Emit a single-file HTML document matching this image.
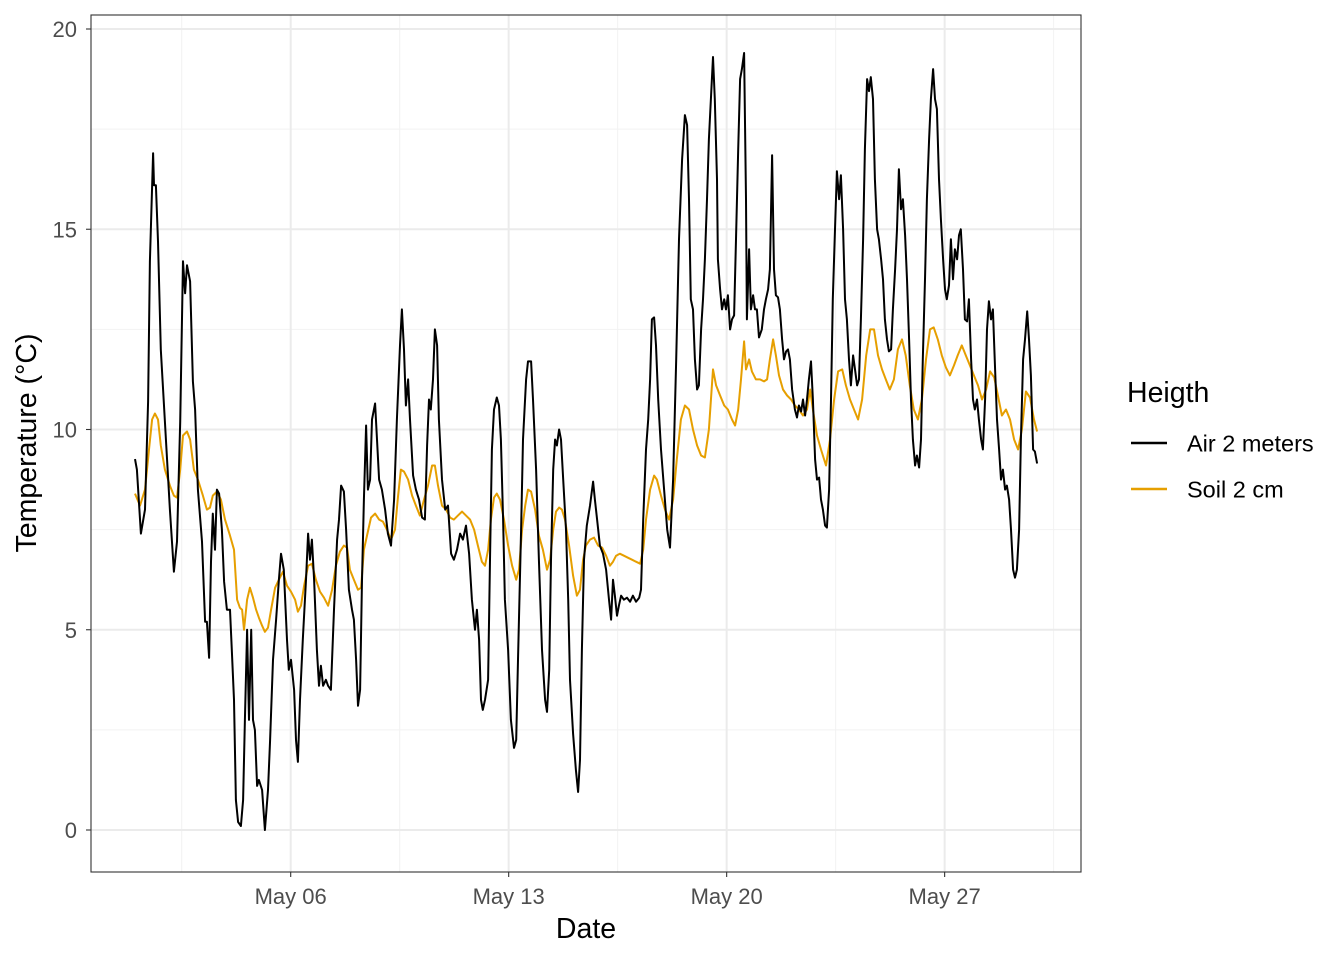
<!DOCTYPE html>
<html><head><meta charset="utf-8"><style>
body{margin:0;background:#fff;}
svg{display:block;font-family:"Liberation Sans",sans-serif;}
</style></head><body>
<svg id="chart" width="1344" height="960">
<g id="grid"></g>
<g id="series"></g>
<rect x="91" y="15" width="990" height="857" fill="none" stroke="#333" stroke-width="1.1"/>
<g id="axes"></g>
<text x="586" y="938" font-size="28.5" text-anchor="middle" fill="#000">Date</text>
<text transform="translate(36,443) rotate(-90)" font-size="28.5" text-anchor="middle" fill="#000">Temperature (°C)</text>
<g>
<text x="1127" y="402" font-size="28.5" fill="#000">Heigth</text>
<g><line x1="1131" x2="1167" y1="443" y2="443" stroke="#000" stroke-width="2.5"/><text x="1187" y="451.5" font-size="23.5" fill="#000">Air 2 meters</text></g>
<g><line x1="1131" x2="1167" y1="489" y2="489" stroke="#E69F00" stroke-width="2.5"/><text x="1187" y="497.5" font-size="23.5" fill="#000">Soil 2 cm</text></g>
</g>
</svg>
<script>
// days since May 01 00:00
const airDays=[0,0.06,0.19,0.32,0.42,0.48,0.58,0.61,0.67,0.74,0.83,0.96,1.12,1.25,1.35,1.45,1.54,1.61,1.67,1.77,1.86,1.93,2.02,2.15,2.25,2.31,2.38,2.44,2.5,2.57,2.63,2.7,2.79,2.86,2.95,3.05,3.11,3.18,3.24,3.31,3.4,3.47,3.53,3.6,3.66,3.73,3.79,3.85,3.92,3.98,4.08,4.17,4.27,4.34,4.43,4.53,4.62,4.69,4.78,4.88,4.94,5.01,5.11,5.17,5.23,5.3,5.39,5.49,5.56,5.62,5.68,5.75,5.84,5.91,5.97,6.04,6.13,6.2,6.29,6.39,6.49,6.55,6.62,6.71,6.78,6.87,6.97,7.03,7.1,7.16,7.23,7.29,7.35,7.42,7.48,7.55,7.61,7.71,7.77,7.84,7.93,8.03,8.12,8.22,8.32,8.41,8.51,8.57,8.64,8.7,8.77,8.83,8.93,9.02,9.12,9.22,9.31,9.38,9.44,9.5,9.57,9.63,9.7,9.76,9.86,9.96,10.05,10.15,10.24,10.34,10.44,10.53,10.63,10.73,10.82,10.92,10.98,11.05,11.11,11.17,11.24,11.34,11.4,11.46,11.53,11.62,11.69,11.75,11.82,11.88,11.98,12.07,12.17,12.24,12.3,12.4,12.46,12.56,12.62,12.72,12.78,12.88,12.97,13.07,13.17,13.23,13.3,13.36,13.43,13.49,13.55,13.62,13.68,13.75,13.84,13.91,13.97,14.07,14.16,14.23,14.29,14.35,14.42,14.51,14.61,14.71,14.77,14.84,14.93,15.03,15.13,15.22,15.29,15.35,15.41,15.48,15.54,15.61,15.7,15.8,15.9,15.99,16.09,16.19,16.25,16.32,16.41,16.48,16.54,16.6,16.67,16.73,16.8,16.89,16.99,17.09,17.18,17.28,17.38,17.47,17.57,17.66,17.73,17.79,17.85,17.92,17.98,18.05,18.11,18.18,18.24,18.3,18.37,18.43,18.5,18.56,18.62,18.69,18.72,18.79,18.85,18.92,18.98,19.04,19.11,19.17,19.24,19.3,19.37,19.43,19.49,19.56,19.62,19.65,19.72,19.78,19.85,19.91,19.97,20.04,20.13,20.2,20.26,20.33,20.39,20.46,20.52,20.58,20.65,20.71,20.78,20.84,20.91,20.97,21.03,21.1,21.19,21.26,21.32,21.39,21.45,21.52,21.58,21.64,21.71,21.77,21.84,21.9,21.97,22.03,22.09,22.16,22.22,22.29,22.35,22.41,22.48,22.54,22.61,22.67,22.74,22.8,22.86,22.93,22.99,23.06,23.12,23.19,23.25,23.31,23.38,23.44,23.51,23.57,23.63,23.7,23.76,23.83,23.89,23.96,24.02,24.08,24.15,24.21,24.28,24.34,24.41,24.47,24.53,24.6,24.66,24.73,24.79,24.86,24.92,24.98,25.05,25.11,25.18,25.24,25.3,25.37,25.43,25.5,25.56,25.63,25.69,25.75,25.82,25.88,25.95,26.01,26.07,26.14,26.2,26.27,26.33,26.4,26.46,26.52,26.59,26.65,26.72,26.78,26.85,26.91,26.97,27.04,27.1,27.17,27.23,27.3,27.36,27.42,27.49,27.55,27.62,27.68,27.75,27.81,27.87,27.94,28,28.07,28.13,28.2,28.26,28.32,28.39,28.45,28.52,28.58,28.65,28.71,28.77,28.84,28.9,28.97];
const airTemp=[9.26,9,7.4,8,10.7,14.2,16.9,16.1,16.1,14.7,12,10.2,8,6.45,7.2,10.2,14.2,13.4,14.1,13.7,11.2,10.5,8.5,7.2,5.2,5.2,4.3,6.7,7.9,7,8.5,8.4,7.5,6.2,5.5,5.5,4.5,3.25,0.75,0.2,0.1,0.75,2.75,5,2.75,5,2.75,2.5,1.1,1.25,1,0,1,2.25,4.25,5.25,6.25,6.9,6.5,4.75,4,4.25,3.5,2.25,1.7,3.25,4.75,6.25,7.4,6.75,7.25,6.25,4.5,3.6,4.1,3.6,3.75,3.6,3.5,5.5,7.25,7.75,8.6,8.45,7.5,6,5.5,5.25,4.25,3.1,3.5,6.25,8.25,10.1,8.5,8.75,10.25,10.65,9.75,8.75,8.5,8,7.4,7.1,8.25,10.25,12.1,13,12,10.6,11.25,10.25,8.85,8.5,8.25,7.8,7.75,9.6,10.75,10.5,11.25,12.5,12.1,10.25,8.75,8,8.1,6.9,6.75,7,7.4,7.25,7.6,6.9,5.75,5,5.5,4.75,3.25,3,3.25,3.75,6.75,9.5,10.5,10.8,10.6,9.75,7.75,5.75,4.5,2.75,2.05,2.25,4.25,7.5,9.75,11.25,11.7,11.7,10.75,9,6.75,4.5,3.25,2.95,4,6.75,9,9.75,9.6,10,9.75,8.75,7.5,5.75,3.75,2.4,1.5,0.95,1.75,4.5,6.75,7.6,8.1,8.7,8.25,7.75,7.1,6.9,6.5,5.75,5.25,6.25,5.85,5.35,5.6,5.85,5.75,5.8,5.7,5.85,5.7,5.8,6,7.75,9.5,10.25,11.25,12.75,12.8,12.1,10.75,9.5,8.5,7.5,7.05,8.75,11.75,14.75,16.75,17.85,17.6,15.75,13.25,13,11.75,11,11.1,12.5,13.25,14.25,15.75,17.25,18.35,19.3,18.25,16.25,14.25,13.5,13,13.25,13,13.35,12.5,12.75,12.85,14.75,17,18.75,19,19.4,15.75,12.75,14.5,13,13.35,13,13,12.3,12.5,13,13.25,13.5,14,16.85,14,13.35,13.3,13,12.25,11.75,11.95,12,11.75,11,10.5,10.3,10.6,10.45,10.75,10.35,10.75,11.25,11.7,10.75,9.25,8.75,8.8,8.25,8,7.6,7.55,8.5,10.75,13.25,15,16.45,15.75,16.35,15,13.25,12.75,11.75,11.1,11.85,11.5,11.1,11.25,12.75,14.75,17,18.75,18.45,18.8,18.25,16.25,15,14.75,14.25,13.75,12.75,12.25,11.95,12,13,14,15,16.5,15.5,15.75,14.85,13.75,12.25,10.75,9.75,9.1,9.35,9.05,9.75,11.75,13.75,15.75,17.25,18.25,19,18.25,18,16.25,15.25,14.25,13.5,13.25,13.6,14.75,13.75,14.5,14.25,14.85,15,14,12.75,12.7,13.25,11.75,10.75,10.5,10.75,10.25,9.75,9.5,10.75,12.5,13.2,12.75,13,11.5,10.25,9.5,8.75,9,8.5,8.6,8.25,7.5,6.5,6.3,6.5,7.5,9.75,11.75,12.25,12.95,12.25,11.35,9.5,9.45,9.15];
const soilDays=[0,0.16,0.32,0.45,0.55,0.64,0.74,0.83,0.96,1.12,1.25,1.35,1.45,1.54,1.67,1.77,1.89,2.02,2.18,2.31,2.41,2.5,2.63,2.76,2.89,3.05,3.18,3.28,3.37,3.44,3.5,3.6,3.69,3.79,3.89,3.98,4.08,4.17,4.27,4.37,4.5,4.62,4.75,4.88,5.01,5.14,5.23,5.33,5.43,5.56,5.68,5.81,5.94,6.07,6.2,6.33,6.45,6.58,6.71,6.81,6.9,7.03,7.16,7.26,7.35,7.45,7.58,7.71,7.84,7.96,8.09,8.22,8.35,8.45,8.54,8.64,8.77,8.9,9.02,9.15,9.28,9.41,9.54,9.63,9.73,9.86,9.99,10.12,10.24,10.37,10.5,10.63,10.76,10.89,11.01,11.14,11.24,11.34,11.43,11.53,11.62,11.72,11.85,11.98,12.11,12.24,12.33,12.43,12.53,12.62,12.72,12.85,12.97,13.1,13.23,13.33,13.43,13.52,13.62,13.71,13.81,13.94,14.07,14.19,14.29,14.39,14.48,14.61,14.74,14.87,15,15.13,15.25,15.35,15.45,15.57,15.7,15.83,15.96,16.09,16.22,16.32,16.41,16.54,16.67,16.76,16.89,17.02,17.15,17.28,17.4,17.53,17.66,17.79,17.92,18.05,18.18,18.3,18.43,18.56,18.66,18.79,18.92,19.04,19.17,19.27,19.37,19.46,19.56,19.62,19.72,19.81,19.94,20.07,20.2,20.3,20.39,20.49,20.58,20.68,20.81,20.94,21.07,21.19,21.32,21.45,21.58,21.68,21.77,21.9,22.03,22.19,22.32,22.45,22.58,22.71,22.83,22.96,23.09,23.22,23.35,23.48,23.61,23.73,23.86,23.99,24.11,24.24,24.37,24.5,24.63,24.75,24.88,25.01,25.14,25.27,25.4,25.53,25.65,25.78,25.91,26.04,26.17,26.3,26.42,26.55,26.68,26.81,26.94,27.07,27.2,27.33,27.46,27.59,27.71,27.84,27.97,28.1,28.23,28.36,28.48,28.61,28.74,28.87,28.97];
const soilTemp=[8.4,8.1,8.5,9.5,10.25,10.4,10.25,9.6,9,8.6,8.35,8.3,9,9.85,9.95,9.75,9,8.75,8.35,8,8.05,8.35,8.45,8.25,7.75,7.35,7,5.75,5.55,5.5,5,5.75,6.05,5.8,5.5,5.3,5.1,4.95,5.05,5.5,6.05,6.25,6.45,6.1,5.95,5.75,5.45,5.6,6.1,6.6,6.65,6.25,5.95,5.8,5.6,6,6.6,6.95,7.1,7.05,6.5,6.25,6,6.05,7,7.35,7.8,7.9,7.75,7.7,7.5,7.25,7.5,8.35,9,8.95,8.75,8.35,8.1,7.85,8.25,8.6,9.1,9.1,8.6,8.1,8,7.8,7.75,7.85,7.95,7.85,7.75,7.5,7.1,6.7,6.6,7,7.75,8.3,8.4,8.25,7.75,7.1,6.6,6.25,6.5,7.5,8.1,8.5,8.45,8,7.35,7,6.5,6.75,7.5,7.95,8.05,8,7.75,7.1,6.35,5.85,6,6.75,7.1,7.25,7.3,7.1,7.05,6.85,6.6,6.7,6.85,6.9,6.85,6.8,6.75,6.7,6.65,7,7.75,8.5,8.85,8.75,8.35,8,7.75,8.25,9.25,10.25,10.6,10.5,10,9.6,9.35,9.3,10,11.5,11.1,10.85,10.6,10.5,10.25,10.1,10.5,11.25,12.2,11.5,11.75,11.45,11.25,11.25,11.2,11.25,11.75,12.25,11.85,11.35,11,10.85,10.75,10.6,10.5,10.35,10.5,11,10.5,9.85,9.5,9.1,9.75,10.75,11.45,11.5,11.1,10.75,10.5,10.25,10.75,11.85,12.5,12.5,11.85,11.5,11.25,11,11.25,12,12.25,11.85,11.1,10.5,10.25,10.75,11.75,12.5,12.55,12.25,11.85,11.55,11.35,11.6,11.85,12.1,11.85,11.6,11.35,11.1,10.75,11,11.45,11.3,10.85,10.35,10.5,10.25,9.75,9.5,10,10.95,10.8,10.25,9.95];
const yTicks=[0,5,10,15,20];
const yTickLabels=["0","5","10","15","20"];
const xTickDays=[5,12,19,26];
const xTickLabels=["May 06","May 13","May 20","May 27"];

const NS="http://www.w3.org/2000/svg";
const X0=91,X1=1081,Y0=15,Y1=872;
function xs(d){return 135+d*31.14;}
function ys(t){return 830-t*40.05;}
function mk(tag,attrs,parent){const e=document.createElementNS(NS,tag);for(const k in attrs)e.setAttribute(k,attrs[k]);parent.appendChild(e);return e;}
const grid=document.getElementById('grid'),axes=document.getElementById('axes'),series=document.getElementById('series');
mk('rect',{x:X0,y:Y0,width:X1-X0,height:Y1-Y0,fill:'#fff'},grid);
for(let i=0;i<yTicks.length-1;i++){const v=(yTicks[i]+yTicks[i+1])/2;const l=mk('line',{x1:X0,x2:X1,y1:ys(v),y2:ys(v),stroke:'#f2f2f2','stroke-width':1},grid);

}
const step=xTickDays[1]-xTickDays[0];
for(let d=xTickDays[0]-step/2;d<=xTickDays[xTickDays.length-1]+step;d+=step){if(xs(d)<X0||xs(d)>X1)continue;const l=mk('line',{x1:xs(d),x2:xs(d),y1:Y0,y2:Y1,stroke:'#f2f2f2','stroke-width':1},grid);

}
yTicks.forEach((v,i)=>{const l=mk('line',{x1:X0,x2:X1,y1:ys(v),y2:ys(v),stroke:'#ebebeb','stroke-width':2},grid);


const tk=mk('line',{x1:X0-5,x2:X0,y1:ys(v),y2:ys(v),stroke:'#333','stroke-width':1.1},axes);


const t=mk('text',{x:X0-14,y:ys(v)+8,'font-size':22,'text-anchor':'end',fill:'#4d4d4d'},axes);t.textContent=yTickLabels[i];

});
xTickDays.forEach((d,i)=>{const l=mk('line',{x1:xs(d),x2:xs(d),y1:Y0,y2:Y1,stroke:'#ebebeb','stroke-width':2},grid);


const tk=mk('line',{x1:xs(d),x2:xs(d),y1:Y1,y2:Y1+5,stroke:'#333','stroke-width':1.1},axes);


const t=mk('text',{x:xs(d),y:Y1+32,'font-size':22,'text-anchor':'middle',fill:'#4d4d4d'},axes);t.textContent=xTickLabels[i];

});
function line(days,temps,color,name){let p='';days.forEach((d,i)=>{p+=(i?'L':'M')+xs(d).toFixed(1)+','+ys(temps[i]).toFixed(1);});
const e=mk('path',{d:p,fill:'none',stroke:color,'stroke-width':2,'stroke-linejoin':'round'},series);

}
line(soilDays,soilTemp,'#E69F00','soil-2cm-line');
line(airDays,airTemp,'#000000','air-2m-line');
</script>
</body></html>
